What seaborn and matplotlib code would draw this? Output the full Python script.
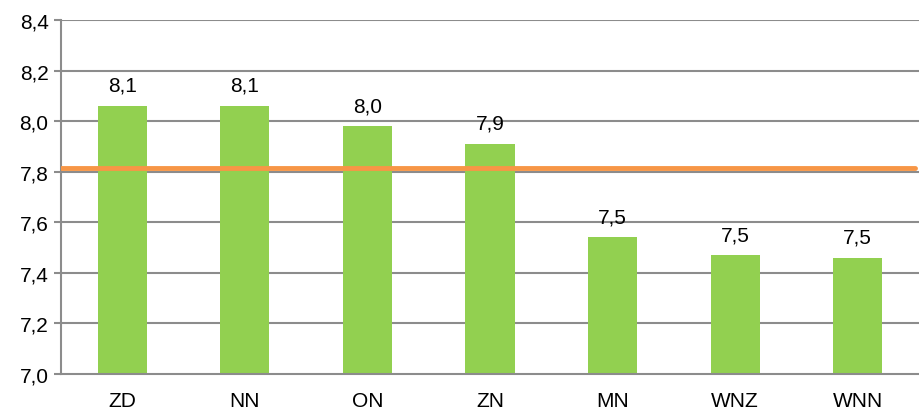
import numpy as np
import pandas as pd
import matplotlib
matplotlib.use("Agg")
import matplotlib.pyplot as plt
import seaborn as sns

# data
categories = ["ZD", "NN", "ON", "ZN", "MN", "WNZ", "WNN"]
values = [8.06, 8.06, 7.98, 7.91, 7.54, 7.47, 7.46]
reference_line = 7.815
y_ticks = [7.0, 7.2, 7.4, 7.6, 7.8, 8.0, 8.2, 8.4]

df = pd.DataFrame({"cat": categories, "val": values})

sns.set_style("white")
plt.rcParams['font.family'] = ['Liberation Sans', 'DejaVu Sans']

fig = plt.figure(figsize=(9.19, 4.14), dpi=100)
ax = fig.add_axes([0.0664, 0.0942, 0.9336, 0.855])

grid_col = "#8c8c8c"
fs = 15
for t in y_ticks[1:]:
    ax.axhline(t, color=grid_col, lw=1.5, zorder=0)

sns.barplot(data=df, x="cat", y="val", color="#92D050", width=0.4,
            saturation=1, ax=ax, zorder=2, linewidth=0)
ax.axhline(reference_line, color="#F79646", lw=3.5, zorder=3, xmax=0.995)

for c in ax.containers:
    ax.bar_label(c, labels=[f"{v:.1f}".replace(".", ",") for v in values],
                 padding=8, fontsize=fs, color="black")

ax.set_ylim(7.0, 8.4)
ax.set_xlim(-0.5, 6.5)
ax.set_yticks(y_ticks)
ax.set_yticklabels([f"{t:.1f}".replace(".", ",") for t in y_ticks], fontsize=fs)
ax.set_xticks(range(len(categories)))
ax.set_xticklabels(categories, fontsize=fs)
ax.set_xticks(np.arange(-0.5, 6.5, 1), minor=True)
ax.tick_params(axis="x", which="major", length=0, pad=12, labelcolor="black")
ax.tick_params(axis="x", which="minor", length=5, width=1.5, color=grid_col)
ax.tick_params(axis="y", length=5, width=1.5, color=grid_col, pad=4, left=True,
               labelcolor="black")
ax.set_xlabel("")
ax.set_ylabel("")

for s in ["top", "right"]:
    ax.spines[s].set_visible(False)
for s in ["left", "bottom"]:
    ax.spines[s].set_color(grid_col)
    ax.spines[s].set_linewidth(1.5)

fig.savefig("out.png", dpi=100)
